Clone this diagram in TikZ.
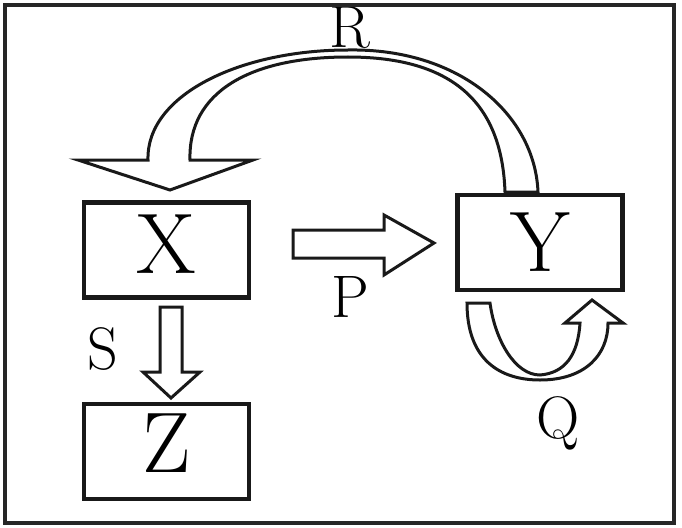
\documentclass[tikz,border=0pt]{standalone}
\usetikzlibrary{calc}
\begin{document}
\begin{tikzpicture}[x=1pt,y=-1pt,
  box/.style={draw=black!90, line width=4.5pt, minimum width=165pt, minimum height=95pt, inner sep=0pt, font=\fontsize{86}{86}\selectfont},
  lab/.style={inner sep=0pt, font=\fontsize{60}{60}\selectfont, text height=41pt, text depth=0pt},
  barrow/.style={draw=black!90, line width=3pt, fill=white, line join=miter}]
\useasboundingbox (0,0) rectangle (682,527);
% label R (partly under the frame)
\node[lab] (R) at (350,27) {R};
% frame
\draw[line width=4.5pt, black!85] (5,5) rectangle (674,523);
% R arrow: ribbon arc from Y back to X
\draw[barrow] (148,160) .. controls (146,95) and (240,50) .. (348,50)
  .. controls (460,48) and (535,115) .. (538,192) -- (505,192)
  .. controls (502,105) and (455,57) .. (348,57)
  .. controls (250,57) and (188,92) .. (190,160)
  -- (253,160) -- (170,190) -- (78,160) -- cycle;
% P arrow
\draw[barrow] (293,230) -- (384,230) -- (384,215) -- (434,243) -- (384,275) -- (384,258) -- (293,258) -- cycle;
% S arrow
\draw[barrow] (160,307) -- (182,307) -- (182,372) -- (200,372) -- (171,398) -- (143,372) -- (160,372) -- cycle;
% Q loop arrow
\draw[barrow] (467,303) .. controls (467,360) and (500,380) .. (540,380)
  .. controls (585,380) and (608,355) .. (608,323)
  -- (623,323) -- (592,300) -- (565,323) -- (580,323)
  .. controls (578,355) and (565,373) .. (540,375)
  .. controls (515,375) and (495,340) .. (490,303) -- cycle;
% boxes
\node[box, text depth=12pt] (X) at (166.5,250) {X};
\node[box] (Y) at (540,242.5) {Y};
\node[box, text depth=16pt] (Z) at (166.5,451.5) {Z};
% labels
\node[lab] (S) at (103,349) {S};
\node[lab] (P) at (350,297) {P};
\node[lab] (Q) at (558,418) {Q};
\end{tikzpicture}
\end{document}
